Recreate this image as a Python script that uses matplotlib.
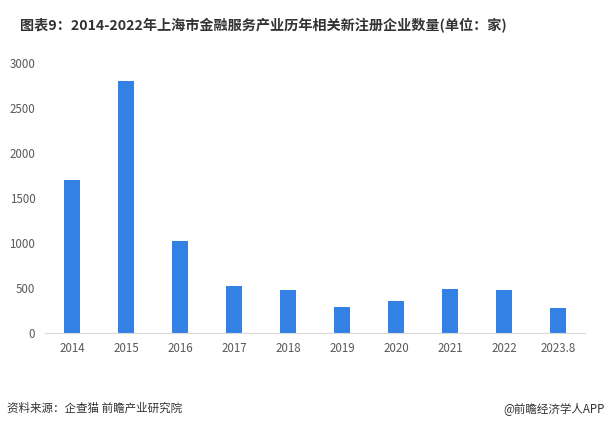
import matplotlib.pyplot as plt
import numpy as np

plt.rcParams['font.family'] = ['Noto Sans CJK SC', 'DejaVu Sans']

# data
years = ["2014", "2015", "2016", "2017", "2018", "2019", "2020", "2021", "2022", "2023.8"]
counts = [1710, 2800, 1025, 528, 480, 292, 358, 490, 480, 282]

title = "图表9：2014-2022年上海市金融服务产业历年相关新注册企业数量(单位：家)"
source = "资料来源：企查猫 前瞻产业研究院"
credit = "@前瞻经济学人APP"

fig = plt.figure(figsize=(6.08, 4.29), dpi=100, facecolor="white")
ax = fig.add_axes([0.074, 0.223, 0.888, 0.629])

x = np.arange(len(years))
ax.bar(x, counts, width=0.31, color="#3481e6")

ax.set_xlim(-0.5, len(years) - 0.5)
ax.set_ylim(0, 3000)
ax.set_yticks(range(0, 3001, 500))
ax.set_xticks(x)
ax.set_xticklabels(years)

for s in ["top", "right", "left"]:
    ax.spines[s].set_visible(False)
ax.spines["bottom"].set_color("#d9d9d9")
ax.tick_params(axis="both", length=0, labelsize=8.3, colors="#595959")
ax.tick_params(axis="y", pad=7)
ax.tick_params(axis="x", pad=6)

fig.text(0.033, 0.94, title, fontsize=10.2, fontweight="bold", color="#333333",
         va="center", ha="left")
fig.text(0.011, 0.048, source, fontsize=8.3, color="#333333", va="center", ha="left")
fig.text(0.995, 0.048, credit, fontsize=8.3, color="#333333", va="center", ha="right")

plt.savefig("out.png", dpi=100, facecolor="white")
